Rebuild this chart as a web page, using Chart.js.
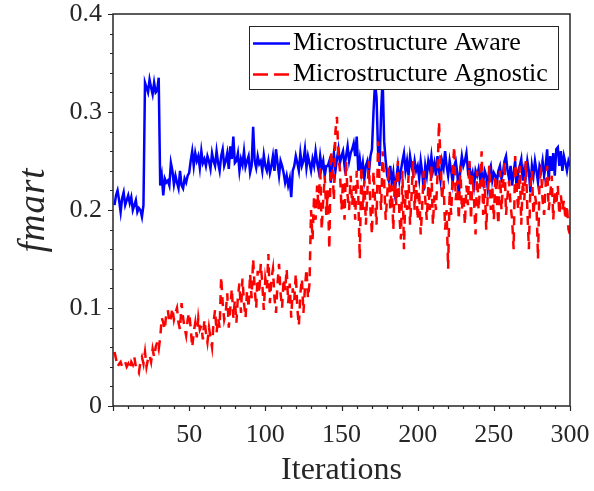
<!DOCTYPE html>
<html>
<head>
<meta charset="utf-8">
<script src="https://cdn.jsdelivr.net/npm/chart.js@4"></script>
<style>
  html, body { margin: 0; padding: 0; background: #fff; }
  #wrap { width: 594px; height: 491px; }
</style>
</head>
<body>
<div id="wrap"><canvas id="c" width="594" height="491"></canvas></div>
<script>
// Iteration index (x values)
const iterations = [];
for (let i = 1; i <= 300; i++) iterations.push(i);

// f_mart per iteration, microstructure-aware optimisation
const awareValues = [
  0.205,0.215,0.22,0.21,0.198,0.212,0.218,0.205,0.21,0.215,
  0.207,0.213,0.2,0.205,0.21,0.198,0.202,0.2,0.193,0.205,
  0.33,0.325,0.32,0.333,0.325,0.318,0.33,0.32,0.322,0.335,
  0.225,0.235,0.215,0.232,0.228,0.23,0.225,0.248,0.24,0.226,
  0.235,0.228,0.222,0.24,0.225,0.222,0.232,0.228,0.235,0.238,
  0.25,0.26,0.245,0.258,0.25,0.255,0.243,0.26,0.248,0.252,
  0.245,0.255,0.25,0.242,0.258,0.25,0.245,0.26,0.248,0.24,
  0.255,0.262,0.245,0.25,0.258,0.242,0.265,0.252,0.275,0.248,
  0.25,0.258,0.24,0.252,0.246,0.26,0.244,0.25,0.255,0.238,
  0.245,0.285,0.25,0.243,0.255,0.247,0.25,0.24,0.256,0.245,
  0.24,0.25,0.238,0.245,0.255,0.24,0.262,0.248,0.235,0.25,
  0.245,0.238,0.228,0.235,0.225,0.232,0.213,0.24,0.245,0.255,
  0.248,0.24,0.258,0.245,0.25,0.262,0.243,0.255,0.248,0.24,
  0.252,0.245,0.26,0.248,0.24,0.255,0.243,0.25,0.235,0.245,
  0.245,0.25,0.228,0.245,0.258,0.24,0.252,0.262,0.248,0.255,
  0.26,0.245,0.255,0.265,0.25,0.258,0.262,0.268,0.255,0.275,
  0.24,0.252,0.238,0.248,0.232,0.245,0.25,0.238,0.255,0.262,
  0.3,0.33,0.315,0.26,0.245,0.3,0.335,0.27,0.25,0.235,
  0.23,0.245,0.228,0.238,0.22,0.232,0.245,0.23,0.24,0.25,
  0.258,0.24,0.25,0.235,0.255,0.245,0.238,0.25,0.24,0.245,
  0.232,0.25,0.238,0.22,0.245,0.235,0.25,0.242,0.255,0.24,
  0.248,0.235,0.255,0.24,0.23,0.25,0.243,0.26,0.245,0.235,
  0.25,0.24,0.228,0.245,0.25,0.238,0.215,0.242,0.255,0.245,
  0.25,0.258,0.24,0.245,0.232,0.238,0.225,0.24,0.235,0.242,
  0.232,0.238,0.228,0.24,0.235,0.222,0.24,0.245,0.23,0.238,
  0.235,0.228,0.24,0.245,0.232,0.238,0.25,0.255,0.24,0.232,
  0.245,0.225,0.238,0.25,0.22,0.24,0.245,0.252,0.23,0.242,
  0.235,0.25,0.24,0.218,0.245,0.235,0.25,0.24,0.228,0.245,
  0.24,0.25,0.235,0.245,0.262,0.23,0.255,0.24,0.258,0.235,
  0.262,0.264,0.245,0.26,0.24,0.255,0.248,0.24,0.25,0.245
];

// f_mart per iteration, microstructure-agnostic optimisation
const agnosticValues = [
  0.055,0.048,0.04,0.043,0.045,0.04,0.042,0.045,0.04,0.043,
  0.038,0.045,0.042,0.05,0.04,0.038,0.034,0.045,0.05,0.043,
  0.055,0.04,0.048,0.052,0.045,0.058,0.05,0.06,0.065,0.058,
  0.07,0.09,0.085,0.078,0.095,0.098,0.085,0.09,0.1,0.088,
  0.095,0.1,0.085,0.078,0.105,0.09,0.08,0.072,0.088,0.095,
  0.08,0.06,0.075,0.085,0.07,0.09,0.078,0.082,0.068,0.088,
  0.075,0.065,0.08,0.07,0.06,0.085,0.098,0.075,0.09,0.08,
  0.132,0.105,0.088,0.095,0.115,0.08,0.1,0.12,0.09,0.108,
  0.085,0.112,0.125,0.095,0.13,0.105,0.09,0.118,0.1,0.135,
  0.11,0.15,0.12,0.1,0.138,0.115,0.145,0.125,0.098,0.13,
  0.12,0.155,0.105,0.13,0.14,0.11,0.095,0.125,0.145,0.115,
  0.1,0.13,0.118,0.14,0.105,0.125,0.09,0.12,0.108,0.135,
  0.1,0.082,0.115,0.13,0.095,0.12,0.14,0.11,0.125,0.2,
  0.17,0.215,0.19,0.225,0.2,0.245,0.18,0.21,0.235,0.195,
  0.22,0.16,0.26,0.245,0.21,0.28,0.295,0.255,0.24,0.2,
  0.23,0.19,0.25,0.215,0.2,0.235,0.205,0.225,0.19,0.24,
  0.215,0.15,0.245,0.2,0.23,0.185,0.22,0.25,0.2,0.175,
  0.24,0.21,0.185,0.27,0.225,0.2,0.26,0.23,0.19,0.215,
  0.245,0.2,0.225,0.18,0.23,0.205,0.25,0.195,0.17,0.24,
  0.16,0.22,0.2,0.235,0.185,0.215,0.25,0.2,0.23,0.19,
  0.22,0.175,0.205,0.24,0.21,0.19,0.225,0.2,0.245,0.185,
  0.215,0.2,0.235,0.29,0.25,0.21,0.23,0.18,0.2,0.14,
  0.22,0.195,0.24,0.265,0.21,0.23,0.19,0.245,0.2,0.215,
  0.185,0.225,0.205,0.25,0.19,0.235,0.21,0.175,0.24,0.2,
  0.225,0.26,0.195,0.23,0.18,0.215,0.245,0.2,0.225,0.19,
  0.235,0.21,0.185,0.24,0.2,0.225,0.25,0.195,0.215,0.23,
  0.205,0.19,0.16,0.255,0.22,0.2,0.245,0.185,0.23,0.21,
  0.25,0.2,0.16,0.225,0.24,0.195,0.215,0.205,0.15,0.23,
  0.24,0.21,0.195,0.225,0.245,0.2,0.215,0.235,0.19,0.22,
  0.205,0.225,0.195,0.215,0.2,0.21,0.19,0.205,0.18,0.175
];

const seriesLabels = ['Microstructure Aware', 'Microstructure Agnostic'];
const xTickValues = [50, 100, 150, 200, 250, 300];
const yTickLabels = ['0', '0.1', '0.2', '0.3', '0.4'];
const xAxisTitle = 'Iterations';
const yAxisTitle = 'fmart';

const SERIF = '"Liberation Serif", "Times New Roman", serif';
const AXIS_COLOR = '#262626';

function toPoints(values) {
  return values.map((v, i) => ({ x: iterations[i], y: v }));
}

// Box around the axes plus outward major/minor tick marks
const framePlugin = {
  id: 'frame',
  afterDatasetsDraw(chart) {
    const { ctx, chartArea: a, scales: { x, y } } = chart;
    ctx.save();
    ctx.strokeStyle = AXIS_COLOR;
    ctx.lineWidth = 1.5;
    ctx.strokeRect(a.left, a.top, a.right - a.left, a.bottom - a.top);
    ctx.lineWidth = 1.2;
    ctx.beginPath();
    for (let v = 0; v <= 300; v += 10) {
      const px = Math.round(x.getPixelForValue(v)) + 0.5;
      const len = (v % 50 === 0) ? 5 : 3;
      ctx.moveTo(px, a.bottom);
      ctx.lineTo(px, a.bottom + len);
    }
    for (let k = 0; k <= 20; k++) {
      const py = Math.round(y.getPixelForValue(k * 0.02)) + 0.5;
      const len = (k % 5 === 0) ? 5 : 3;
      ctx.moveTo(a.left, py);
      ctx.lineTo(a.left - len, py);
    }
    ctx.stroke();
    ctx.restore();
  },
  afterDraw(chart) {
    const { ctx } = chart;
    // y-axis title, rotated, italic
    ctx.save();
    ctx.translate(44, 210);
    ctx.rotate(-Math.PI / 2);
    ctx.font = 'italic 37px ' + SERIF;
    ctx.letterSpacing = '1px';
    ctx.fillStyle = AXIS_COLOR;
    ctx.textAlign = 'center';
    ctx.textBaseline = 'alphabetic';
    ctx.fillText(yAxisTitle, 0, 0);
    ctx.restore();

    // legend box
    const box = { l: 249, t: 26, r: 558, b: 89 };
    ctx.save();
    ctx.fillStyle = '#fff';
    ctx.fillRect(box.l, box.t, box.r - box.l, box.b - box.t);
    ctx.strokeStyle = AXIS_COLOR;
    ctx.lineWidth = 1;
    ctx.strokeRect(box.l + 0.5, box.t + 0.5, box.r - box.l, box.b - box.t);
    const rows = [43.5, 74.5];
    chart.data.datasets.forEach((ds, i) => {
      ctx.beginPath();
      ctx.strokeStyle = ds.borderColor;
      ctx.lineWidth = ds.borderWidth;
      ctx.setLineDash(ds.borderDash && ds.borderDash.length ? [15, 6] : []);
      ctx.moveTo(253, rows[i]);
      ctx.lineTo(290, rows[i]);
      ctx.stroke();
      ctx.setLineDash([]);
      ctx.fillStyle = '#000';
      ctx.font = '26px ' + SERIF;
      ctx.textAlign = 'left';
      ctx.textBaseline = 'middle';
      ctx.fillText(ds.label, 293, rows[i]);
    });
    ctx.restore();
  }
};

new Chart(document.getElementById('c'), {
  type: 'line',
  data: {
    datasets: [
      {
        label: seriesLabels[0],
        data: toPoints(awareValues),
        borderColor: '#0000ff',
        borderWidth: 2.5,
        pointRadius: 0,
        tension: 0,
        order: 2
      },
      {
        label: seriesLabels[1],
        data: toPoints(agnosticValues),
        borderColor: '#ff0000',
        borderWidth: 2.5,
        borderDash: [9, 7],
        pointRadius: 0,
        tension: 0,
        order: 1
      }
    ]
  },
  options: {
    responsive: false,
    animation: false,
    events: [],
    layout: { padding: { top: 14, right: 24, left: 0, bottom: 0 } },
    plugins: { legend: { display: false }, tooltip: { enabled: false } },
    scales: {
      x: {
        type: 'linear',
        min: 0,
        max: 300,
        afterBuildTicks(scale) {
          scale.ticks = xTickValues.map(v => ({ value: v }));
        },
        ticks: {
          autoSkip: false,
          maxRotation: 0,
          padding: 14,
          color: AXIS_COLOR,
          font: { family: SERIF, size: 26 },
          callback: v => String(v)
        },
        grid: { display: false, drawTicks: false },
        border: { display: false },
        title: {
          display: true,
          text: xAxisTitle,
          color: AXIS_COLOR,
          font: { family: SERIF, size: 32, lineHeight: 1.2 },
          padding: { top: 0, bottom: 1 }
        },
        afterFit(scale) {
          scale.height = 85;
          scale.paddingLeft = 0;
          scale.paddingRight = 0;
        }
      },
      y: {
        min: 0,
        max: 0.4,
        ticks: {
          stepSize: 0.1,
          padding: 11,
          color: AXIS_COLOR,
          font: { family: SERIF, size: 26 },
          callback: v => yTickLabels[Math.round(v * 10)]
        },
        grid: { display: false, drawTicks: false },
        border: { display: false },
        afterFit(scale) {
          scale.width = 113;
          scale.paddingTop = 0;
          scale.paddingBottom = 0;
        }
      }
    }
  },
  plugins: [framePlugin]
});
</script>
</body>
</html>
